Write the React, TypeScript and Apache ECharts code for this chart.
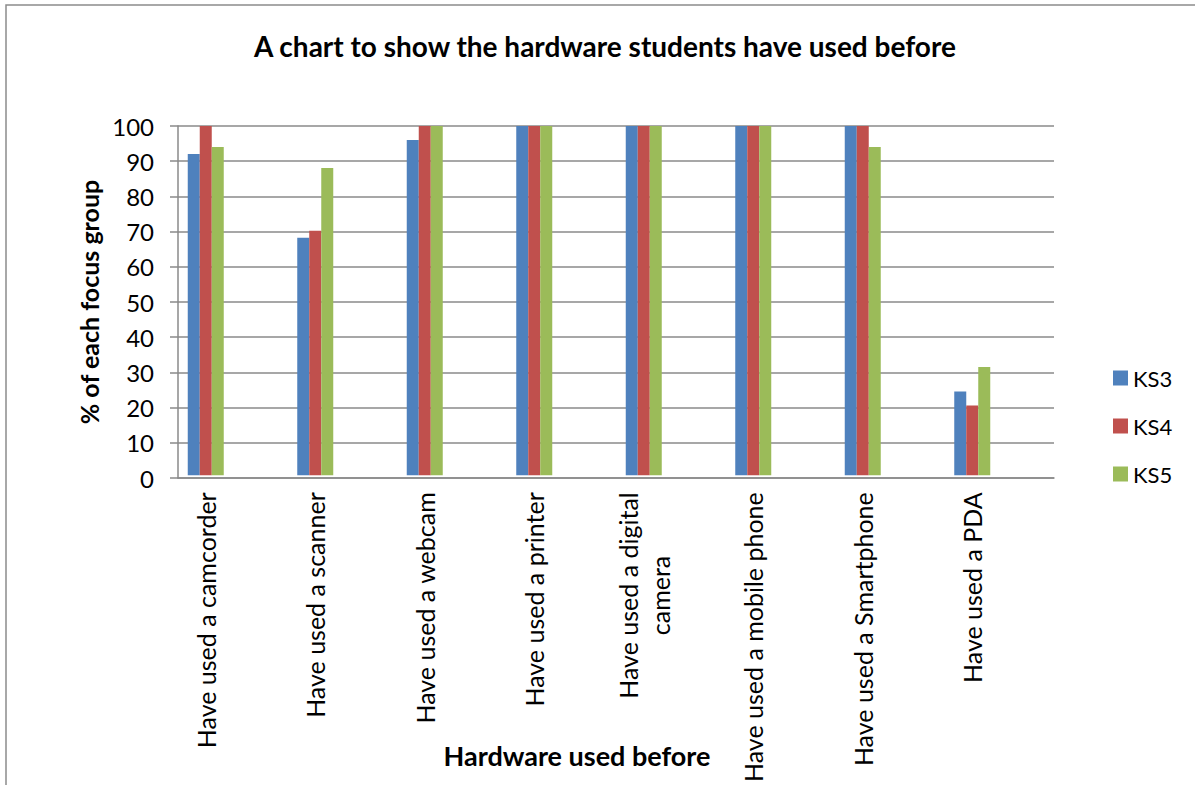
import React, { useEffect, useRef } from "react";
import * as echarts from "echarts";

// Hardware categories (x axis)
const categories: string[] = [
  "Have used a camcorder",
  "Have used a scanner",
  "Have used a webcam",
  "Have used a printer",
  "Have used a digital\ncamera",
  "Have used a mobile phone",
  "Have used a Smartphone",
  "Have used a PDA",
];

// % of each focus group that has used each item
const ks3: number[] = [92, 68, 96, 100, 100, 100, 100, 24];
const ks4: number[] = [100, 70, 100, 100, 100, 100, 100, 20];
const ks5: number[] = [94, 88, 100, 100, 100, 100, 94, 31];

const seriesNames: string[] = ["KS3", "KS4", "KS5"];
const seriesColors: string[] = ["#4F81BD", "#C0504D", "#9BBB59"];

// Value axis ticks
const yMin = 0;
const yMax = 100;
const yStep = 10;

const FONT = "Lato, 'Open Sans', sans-serif";
const GRID_GREY = "#8a8a8a";

export default function App() {
  const ref = useRef<HTMLDivElement>(null);

  useEffect(() => {
    if (!ref.current) return;
    const chart = echarts.init(ref.current, undefined, { renderer: "svg" });

    const values = [ks3, ks4, ks5];

    const option: any = {
      animation: false,
      backgroundColor: "#ffffff",
      title: {
        text: "A chart to show the hardware students have used before",
        left: 600,
        top: 27,
        textAlign: "center",
        textStyle: {
          fontFamily: FONT,
          fontWeight: "bold",
          fontSize: 28,
          color: "#000000",
        },
      },
      legend: {
        orient: "vertical",
        left: 1108,
        top: 362,
        itemWidth: 15,
        itemHeight: 15,
        itemGap: 26,
        itemTextGap: 6,
        icon: "rect",
        data: seriesNames,
        textStyle: {
          fontFamily: FONT,
          fontSize: 22,
          color: "#000000",
        },
      },
      grid: [
        // grid 0: frame with value axis, gridlines and baseline
        { left: 178, right: 141, top: 126, bottom: 307, containLabel: false },
        // grid 1: category bands holding the bars
        { left: 151, right: 168, top: 126, bottom: 307, containLabel: false },
      ],
      xAxis: [
        {
          gridIndex: 0,
          type: "value",
          min: 0,
          max: 1,
          axisLine: { show: true, lineStyle: { color: GRID_GREY, width: 1.5 } },
          axisTick: { show: false },
          axisLabel: { show: false },
          splitLine: { show: false },
        },
        {
          gridIndex: 1,
          type: "category",
          data: categories,
          axisLine: { show: false },
          axisTick: { show: false },
          axisLabel: {
            rotate: 90,
            margin: 17,
            interval: 0,
            fontFamily: FONT,
            fontSize: 25,
            color: "#000000",
            lineHeight: 32,
            formatter: (v: string) => {
              const parts = v.split("\n");
              if (parts.length === 1) return `{a|${v}}`;
              return parts.map((p) => `{c|${p}}`).join("\n");
            },
            rich: {
              a: { fontFamily: FONT, fontSize: 25, color: "#000000", lineHeight: 32 },
              c: {
                fontFamily: FONT,
                fontSize: 25,
                color: "#000000",
                lineHeight: 32,
                align: "center",
              },
            },
          },
          splitLine: { show: false },
        },
      ],
      yAxis: [
        {
          gridIndex: 0,
          type: "value",
          min: yMin,
          max: yMax,
          interval: yStep,
          name: "% of each focus group",
          nameLocation: "middle",
          nameRotate: 90,
          nameGap: 74,
          nameTextStyle: {
            fontFamily: FONT,
            fontWeight: "bold",
            fontSize: 25,
            color: "#000000",
          },
          axisLine: { show: true, lineStyle: { color: GRID_GREY, width: 1.5 } },
          axisTick: {
            show: true,
            length: 8,
            lineStyle: { color: GRID_GREY, width: 1.5 },
          },
          axisLabel: {
            margin: 24,
            fontFamily: FONT,
            fontSize: 24,
            color: "#000000",
          },
          splitLine: { show: true, lineStyle: { color: GRID_GREY, width: 1.5 } },
        },
        {
          gridIndex: 1,
          type: "value",
          min: yMin,
          max: yMax,
          show: false,
          splitLine: { show: false },
        },
      ],
      graphic: [
        {
          type: "rect",
          shape: { x: 6, y: 5, width: 1400, height: 1000 },
          style: { fill: "none", stroke: "#8c8c8c", lineWidth: 1.5 },
          silent: true,
          z: 100,
        },
        {
          type: "text",
          x: 577,
          y: 755,
          style: {
            text: "Hardware used before",
            fontFamily: FONT,
            fontWeight: "bold",
            fontSize: 27,
            fill: "#000000",
            textAlign: "center",
            textVerticalAlign: "middle",
          },
        },
      ],
      series: seriesNames.map((name, i) => ({
        name,
        type: "bar",
        xAxisIndex: 1,
        yAxisIndex: 1,
        data: values[i],
        barWidth: 12,
        barGap: "0%",
        itemStyle: { color: seriesColors[i] },
        z: 3,
      })),
    };

    chart.setOption(option);
    return () => chart.dispose();
  }, []);

  return (
    <div
      ref={ref}
      style={{ position: "absolute", left: 0, top: 0, width: 1195, height: 785 }}
    />
  );
}
